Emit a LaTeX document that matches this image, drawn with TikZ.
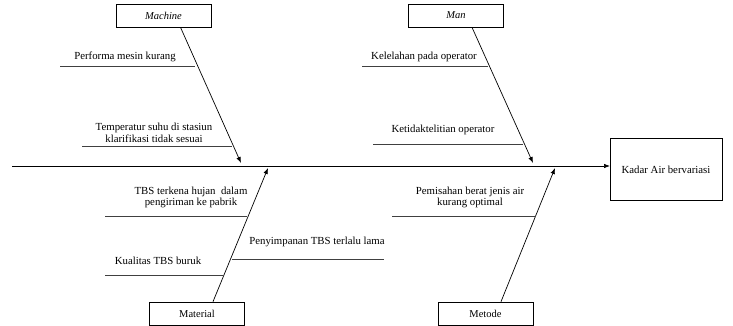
\documentclass[tikz,border=0pt]{standalone}
\usepackage{fontspec}
\setmainfont{Liberation Serif}
\usetikzlibrary{arrows.meta,calc}
\begin{document}
\begin{tikzpicture}[x=1pt,y=-1pt,
  catbox/.style={draw, line width=0.7pt, minimum width=95pt, minimum height=23pt, inner sep=0pt, font=\fontsize{10.5}{12}\selectfont},
  bone/.style={line width=0.7pt, -{Latex[length=6pt,width=4.5pt]}},
  sub/.style={line width=0.7pt, draw=black!75},
  lbl/.style={anchor=south, inner sep=1.5pt, align=center, font=\fontsize{10.8}{11.5}\selectfont}
]
\useasboundingbox (0,0) rectangle (733,326);
% effect box
\node[draw, line width=0.7pt, minimum width=112pt, minimum height=62pt, anchor=north west, inner sep=0pt] (effect) at (610,138) {};
\node[font=\fontsize{10.8}{12}\selectfont, inner sep=0pt] (effecttext) at (666,170) {Kadar Air bervariasi};
% spine
\coordinate (s0) at (12,166);
\draw[bone] (s0) -- (effect.west |- s0);
% category boxes
\node[catbox] (machine) at (163.5,15.5) {\textit{Machine}};
\node[catbox] (man) at (456,15.5) {\textit{Man}};
\node[catbox] (material) at (197,313.5) {Material};
\node[catbox] (metode) at (485.5,313.5) {Metode};
% bone tips
\coordinate (machinetip) at (241,163);
\coordinate (mantip) at (533,163);
\coordinate (materialtip) at (268,168);
\coordinate (metodetip) at (555,168);
\draw[bone] ($(machine.south)+(17,0)$) -- (machinetip);
\draw[bone] ($(man.south)+(16,0)$) -- (mantip);
\draw[bone] ($(material.north)+(16,0)$) -- (materialtip);
\draw[bone] ($(metode.north)+(15.5,0)$) -- (metodetip);
% sub-causes: Machine
\coordinate (a1) at (60,66); \coordinate (a2) at (195,66);
\draw[sub] (a1) -- (a2);
\node[lbl] (t1) at (125,64) {Performa mesin kurang};
\coordinate (b1) at (82,146); \coordinate (b2) at (232,146);
\draw[sub] (b1) -- (b2);
\node[lbl] (t2) at (154,144) {Temperatur suhu di stasiun\\klarifikasi tidak sesuai};
% Man
\coordinate (c1) at (362,66); \coordinate (c2) at (488,66);
\draw[sub] (c1) -- (c2);
\node[lbl] (t3) at (424,64) {Kelelahan pada operator};
\coordinate (d1) at (373,144); \coordinate (d2) at (523,144);
\draw[sub] (d1) -- (d2);
\node[lbl] (t4) at (443,136) {Ketidaktelitian operator};
% Material
\coordinate (e1) at (105,216); \coordinate (e2) at (247,216);
\draw[sub] (e1) -- (e2);
\node[lbl] (t5) at (191,210) {TBS terkena hujan\ \ dalam\\pengiriman ke pabrik};
\coordinate (f1) at (105,275); \coordinate (f2) at (223,275);
\draw[sub] (f1) -- (f2);
\node[lbl] (t6) at (158,266) {Kualitas TBS buruk};
\coordinate (g1) at (232,259); \coordinate (g2) at (384,259);
\draw[sub] (g1) -- (g2);
\node[lbl] (t7) at (317,249) {Penyimpanan TBS terlalu lama};
% Metode
\coordinate (h1) at (392,216); \coordinate (h2) at (536,216);
\draw[sub] (h1) -- (h2);
\node[lbl] (t8) at (470,210) {Pemisahan berat jenis air\\kurang optimal};
\end{tikzpicture}
\end{document}
